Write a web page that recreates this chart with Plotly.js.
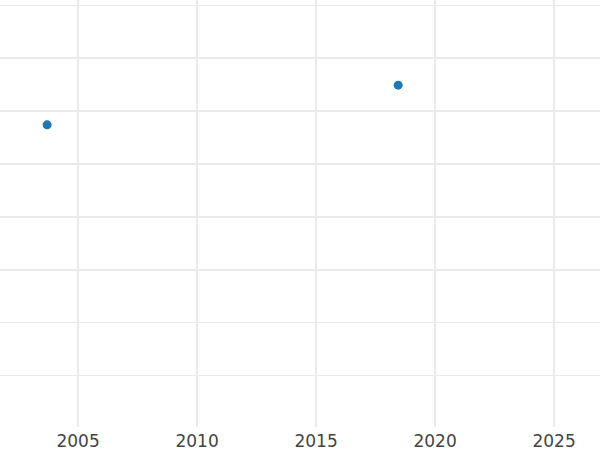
<!DOCTYPE html>
<html>
<head>
<meta charset="utf-8">
<script src="https://cdn.plot.ly/plotly-3.0.1.min.js"></script>
<style>html,body{margin:0;padding:0;background:#fff}#chart{width:600px;height:450px}</style>
</head>
<body>
<div id="chart"></div>
<script>
const years = [2003.7, 2018.45];
const values = [47.4, 54.9];
const xTicks = [2005, 2010, 2015, 2020, 2025];

Plotly.newPlot('chart', [{
  type: 'scatter',
  mode: 'markers',
  x: years,
  y: values,
  marker: {size: 9, color: '#1f77b4'},
  showlegend: false,
  hoverinfo: 'skip'
}], {
  width: 600,
  height: 450,
  margin: {l: 0, r: 0, t: 0, b: 23, pad: 0},
  paper_bgcolor: '#ffffff',
  plot_bgcolor: '#ffffff',
  font: {family: 'DejaVu Sans, sans-serif', size: 17, color: '#444444'},
  xaxis: {
    range: [2001.72, 2026.93],
    tickvals: xTicks,
    ticktext: xTicks.map(String),
    ticklabelstandoff: 2,
    showgrid: true,
    gridcolor: '#ebebeb',
    gridwidth: 2,
    zeroline: false,
    showline: false,
    ticks: ''
  },
  yaxis: {
    range: [-9.72, 71.0],
    dtick: 10,
    tick0: 0,
    showticklabels: false,
    showgrid: true,
    gridcolor: '#ebebeb',
    gridwidth: 1.5,
    zeroline: false,
    showline: false,
    ticks: ''
  }
}, {displayModeBar: false, staticPlot: true});
</script>
</body>
</html>
